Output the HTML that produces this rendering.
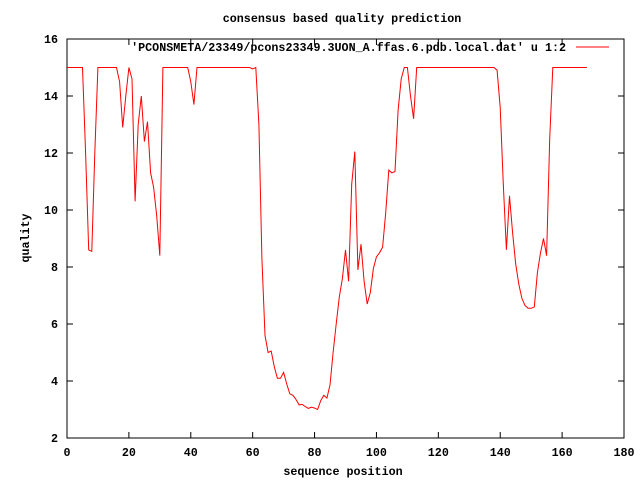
<!DOCTYPE html>
<html><head><meta charset="utf-8"><style>
body{margin:0;background:#fff}
svg text{font-family:"Liberation Mono",monospace;font-size:11.7px;font-weight:bold;fill:#000}
</style></head><body>
<svg id="chart" width="640" height="480" xmlns="http://www.w3.org/2000/svg">
<rect width="640" height="480" fill="#fff"/>
<text x="342" y="22" text-anchor="middle">consensus based quality prediction</text>
<text x="343" y="475" text-anchor="middle">sequence position</text>
<text x="0" y="0" text-anchor="middle" transform="translate(29,238) rotate(-90)">quality</text>
<rect x="67" y="39" width="557" height="399" fill="none" stroke="#000" stroke-width="1"/>
<g id="ticks"></g>
<g id="series"></g>
<g>
<text x="566" y="51" text-anchor="end">'PCONSMETA/23349/pcons23349.3UON_A.ffas.6.pdb.local.dat' u 1:2</text>
<line x1="576" y1="47" x2="609" y2="47" stroke="#f00" stroke-width="1"/>
</g>
</svg>
<script>
const xTicks=[0,20,40,60,80,100,120,140,160,180];
const yTicks=[2,4,6,8,10,12,14,16];
const quality=[15,15,15,15,15,15,12,8.6,8.55,12,15,15,15,15,15,15,15,14.5,12.9,14,15,14.6,10.3,13,14,12.4,13.1,11.3,10.8,9.8,8.4,
15,15,15,15,15,15,15,15,15,14.5,13.7,15,15,15,15,15,15,15,15,15,15,15,15,15,15,15,15,15,15,14.95,15,13,
8.3,5.6,5.0,5.05,4.5,4.1,4.1,4.3,3.9,3.55,3.5,3.35,3.16,3.18,3.1,3.04,3.08,3.05,3.0,3.31,3.5,3.4,3.86,5.0,6.0,6.95,7.6,8.6,7.5,10.9,12.05,7.9,8.8,7.5,6.7,7.1,7.95,8.35,8.5,8.7,9.9,11.4,11.3,11.35,13.5,
14.6,15,15,14,13.2,15,15,15,15,15,15,15,15,15,15,15,15,15,15,15,15,15,15,15,15,15,15,15,15,15,15,14.9,
13.6,10.9,8.6,10.5,9.2,8.1,7.4,6.9,6.65,6.55,6.55,6.6,7.8,8.5,9.0,8.4,12.5,15,15,15,15,15,15,15,15,15,15,15,15];
const X0=67,X1=624,Y0=438,Y1=39;
const sx=v=>X0+(v-0)/(180-0)*(X1-X0);
const sy=v=>Y0-(v-2)/(16-2)*(Y0-Y1);
const NS="http://www.w3.org/2000/svg";
const tg=document.getElementById('ticks');
function mk(tag,attrs,parent){const e=document.createElementNS(NS,tag);for(const k in attrs)e.setAttribute(k,attrs[k]);parent.appendChild(e);return e;}
xTicks.forEach(t=>{
  const x=sx(t);
  const a=mk('line',{x1:x,y1:Y0,x2:x,y2:Y0-6,stroke:'#000'},tg);
  
  
  const b=mk('line',{x1:x,y1:Y1,x2:x,y2:Y1+6,stroke:'#000'},tg);
  
  
  const l=mk('text',{x:x,y:456,'text-anchor':'middle'},tg);l.textContent=t;
  
  
});
yTicks.forEach(t=>{
  const y=sy(t);
  const a=mk('line',{x1:X0,y1:y,x2:X0+6,y2:y,stroke:'#000'},tg);
  
  
  const b=mk('line',{x1:X1,y1:y,x2:X1-6,y2:y,stroke:'#000'},tg);
  
  
  const l=mk('text',{x:58,y:y+4,'text-anchor':'end'},tg);l.textContent=t;
  
  
});
const pts=quality.map((v,i)=>sx(i).toFixed(1)+','+sy(v).toFixed(1)).join(' ');
const pl=mk('polyline',{points:pts,fill:'none',stroke:'#f00','stroke-width':1},document.getElementById('series'));


</script>
</body></html>
